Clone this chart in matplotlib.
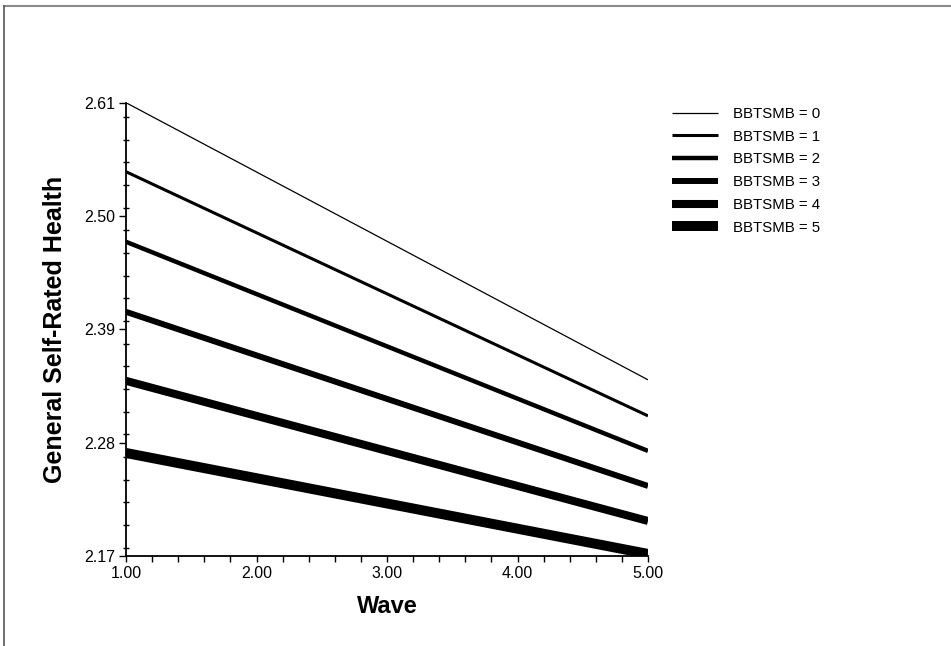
import matplotlib
matplotlib.use("Agg")
import matplotlib.pyplot as plt
from matplotlib.lines import Line2D
from matplotlib.ticker import MultipleLocator, FixedLocator, FormatStrFormatter

plt.rcParams['font.family'] = ['Liberation Sans', 'DejaVu Sans']

# Data
waves = [1.0, 5.0]
series_labels = ["BBTSMB = 0", "BBTSMB = 1", "BBTSMB = 2", "BBTSMB = 3", "BBTSMB = 4", "BBTSMB = 5"]
bbtsmb0 = [2.610, 2.341]
bbtsmb1 = [2.543, 2.306]
bbtsmb2 = [2.475, 2.272]
bbtsmb3 = [2.407, 2.238]
bbtsmb4 = [2.340, 2.204]
bbtsmb5 = [2.270, 2.172]
y_ticks = [2.17, 2.28, 2.39, 2.50, 2.61]
x_ticks = [1.0, 2.0, 3.0, 4.0, 5.0]

series = [bbtsmb0, bbtsmb1, bbtsmb2, bbtsmb3, bbtsmb4, bbtsmb5]
widths = [0.9, 2.2, 3.2, 4.3, 5.8, 7.2]

fig = plt.figure(figsize=(9.51, 6.46), dpi=100)
ax = fig.add_axes([126/951, 1-556/646, (648-126)/951, (556-102.7)/646])

handles = []
for vals, lw, lab in zip(series, widths, series_labels):
    h, = ax.plot(waves, vals, color='black', lw=lw, solid_capstyle='butt', label=lab)
    handles.append(h)

ax.set_xlim(1.0, 5.0)
ax.set_ylim(2.17, 2.61)
ax.spines['top'].set_visible(False)
ax.spines['right'].set_visible(False)
ax.spines['left'].set_linewidth(1.3)
ax.spines['bottom'].set_linewidth(1.3)

ax.yaxis.set_major_locator(FixedLocator(y_ticks))
ax.yaxis.set_major_formatter(FormatStrFormatter('%.2f'))
ax.yaxis.set_minor_locator(MultipleLocator(0.022))
ax.xaxis.set_major_locator(FixedLocator(x_ticks))
ax.xaxis.set_major_formatter(FormatStrFormatter('%.2f'))
ax.xaxis.set_minor_locator(MultipleLocator(0.2))

ax.tick_params(axis='y', which='major', direction='out', length=5, width=1, labelsize=11.5, pad=3)
ax.tick_params(axis='y', which='minor', direction='inout', length=4, width=1)
ax.tick_params(axis='x', which='major', direction='out', length=4, width=1, labelsize=11.5, pad=3)
ax.tick_params(axis='x', which='minor', direction='out', length=4, width=1)

ax.set_xlabel('Wave', fontsize=17, fontweight='bold', labelpad=10)
ax.set_ylabel('General Self-Rated Health', fontsize=18, fontweight='bold', labelpad=12)

fig.legend(handles=handles, loc='upper left', bbox_to_anchor=(672/951, 1-107/646),
           frameon=False, fontsize=10.8, handlelength=3.05, handletextpad=1.0,
           labelspacing=0.58, borderpad=0, borderaxespad=0)

# scanned page border
fig.add_artist(Line2D([4/951, 1.0], [1-6/646, 1-6/646], transform=fig.transFigure,
                      color='#8a8a8a', lw=1.5))
fig.add_artist(Line2D([4/951, 4/951], [0.0, 1-6/646], transform=fig.transFigure,
                      color='#555555', lw=1.2))

fig.savefig('out.png', dpi=100)
